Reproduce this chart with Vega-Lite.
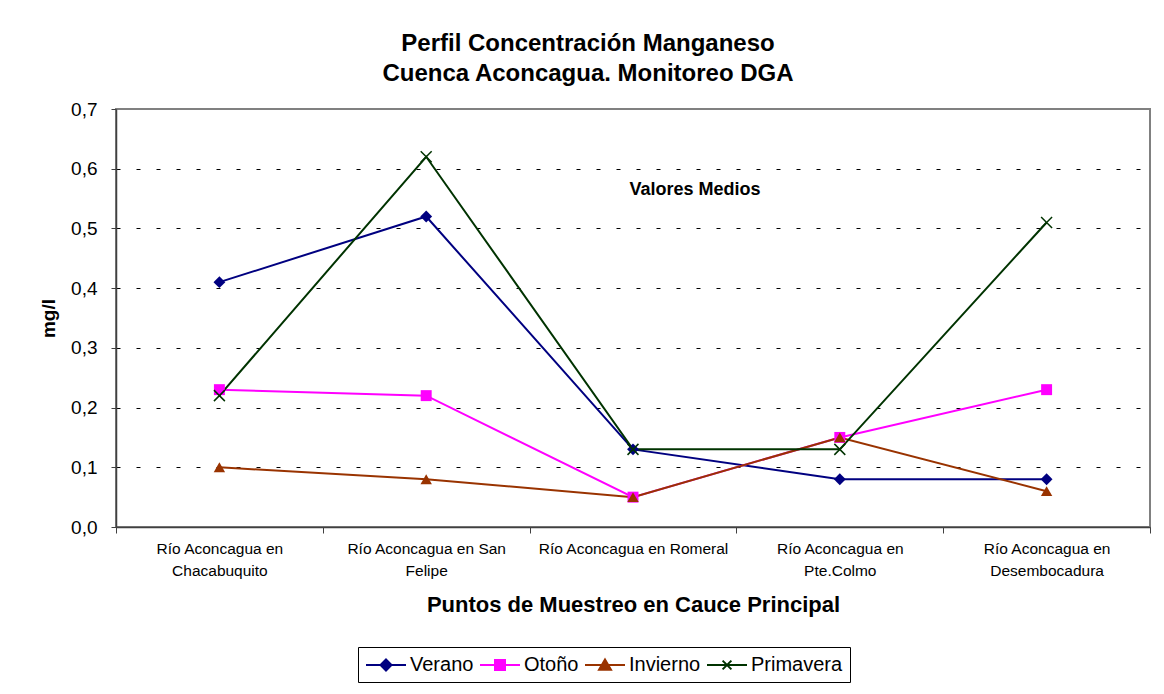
{
  "$schema": "https://vega.github.io/schema/vega-lite/v6.json",
  "width": 1034,
  "height": 418,
  "autosize": {"type": "none"},
  "padding": {"left": 116, "top": 109, "right": 14, "bottom": 167},
  "background": "white",
  "config": {
    "font": "Liberation Sans",
    "view": {"stroke": "#808080", "strokeWidth": 2},
    "axis": {"labelFont": "Liberation Sans", "titleFont": "Liberation Sans", "labelColor": "black", "titleColor": "black"}
  },
  "title": {
    "text": ["Perfil Concentración Manganeso", "Cuenca Aconcagua. Monitoreo DGA"],
    "fontSize": 24,
    "fontWeight": "bold",
    "font": "Liberation Sans",
    "color": "black",
    "lineHeight": 30,
    "anchor": "middle",
    "dx": -45,
    "offset": 14
  },
  "datasets": {
    "valores": [
      {"punto": "Río Aconcagua en Chacabuquito", "estacion": "Verano", "mgl": 0.41},
      {"punto": "Río Aconcagua en San Felipe", "estacion": "Verano", "mgl": 0.52},
      {"punto": "Río Aconcagua en Romeral", "estacion": "Verano", "mgl": 0.13},
      {"punto": "Río Aconcagua en Pte.Colmo", "estacion": "Verano", "mgl": 0.08},
      {"punto": "Río Aconcagua en Desembocadura", "estacion": "Verano", "mgl": 0.08},
      {"punto": "Río Aconcagua en Chacabuquito", "estacion": "Otoño", "mgl": 0.23},
      {"punto": "Río Aconcagua en San Felipe", "estacion": "Otoño", "mgl": 0.22},
      {"punto": "Río Aconcagua en Romeral", "estacion": "Otoño", "mgl": 0.05},
      {"punto": "Río Aconcagua en Pte.Colmo", "estacion": "Otoño", "mgl": 0.15},
      {"punto": "Río Aconcagua en Desembocadura", "estacion": "Otoño", "mgl": 0.23},
      {"punto": "Río Aconcagua en Chacabuquito", "estacion": "Invierno", "mgl": 0.10},
      {"punto": "Río Aconcagua en San Felipe", "estacion": "Invierno", "mgl": 0.08},
      {"punto": "Río Aconcagua en Romeral", "estacion": "Invierno", "mgl": 0.05},
      {"punto": "Río Aconcagua en Pte.Colmo", "estacion": "Invierno", "mgl": 0.15},
      {"punto": "Río Aconcagua en Desembocadura", "estacion": "Invierno", "mgl": 0.06},
      {"punto": "Río Aconcagua en Chacabuquito", "estacion": "Primavera", "mgl": 0.22},
      {"punto": "Río Aconcagua en San Felipe", "estacion": "Primavera", "mgl": 0.62},
      {"punto": "Río Aconcagua en Romeral", "estacion": "Primavera", "mgl": 0.13},
      {"punto": "Río Aconcagua en Pte.Colmo", "estacion": "Primavera", "mgl": 0.13},
      {"punto": "Río Aconcagua en Desembocadura", "estacion": "Primavera", "mgl": 0.51}
    ],
    "nota": [
      {"punto": "Río Aconcagua en Romeral", "mgl": 0.565, "texto": "Valores Medios"}
    ]
  },
  "data": {"name": "valores"},
  "encoding": {
    "x": {
      "field": "punto",
      "type": "nominal",
      "sort": null,
      "scale": {"type": "band", "paddingInner": 0, "paddingOuter": 0},
      "axis": {
        "title": "Puntos de Muestreo en Cauce Principal",
        "titleFontSize": 22,
        "titleFontWeight": "bold",
        "titlePadding": 16,
        "labelAngle": 0,
        "labelFontSize": 15.5,
        "labelLineHeight": 22,
        "labelPadding": 8,
        "labelLimit": 300,
        "tickSize": 6,
        "tickBand": "extent",
        "tickColor": "#404040",
        "domainColor": "#404040",
        "domainWidth": 1.5,
        "grid": false,
        "labelExpr": "datum.value == 'Río Aconcagua en Chacabuquito' ? ['Río Aconcagua en', 'Chacabuquito'] : datum.value == 'Río Aconcagua en San Felipe' ? ['Río Aconcagua en San', 'Felipe'] : datum.value == 'Río Aconcagua en Pte.Colmo' ? ['Río Aconcagua en', 'Pte.Colmo'] : datum.value == 'Río Aconcagua en Desembocadura' ? ['Río Aconcagua en', 'Desembocadura'] : datum.value"
      }
    },
    "y": {
      "field": "mgl",
      "type": "quantitative",
      "scale": {"domain": [0, 0.7], "nice": false, "zero": true},
      "axis": {
        "title": "mg/l",
        "titleFontSize": 19,
        "titleFontWeight": "bold",
        "titlePadding": 12,
        "values": [0, 0.1, 0.2, 0.3, 0.4, 0.5, 0.6, 0.7],
        "labelExpr": "replace(format(datum.value, '.1f'), '.', ',')",
        "labelFontSize": 19,
        "labelPadding": 14,
        "tickSize": 5,
        "tickColor": "#404040",
        "domainColor": "#404040",
        "domainWidth": 1.5,
        "grid": true,
        "gridColor": {"condition": {"test": "datum.value === 0 || datum.value === 0.7", "value": "transparent"}, "value": "black"},
        "gridDash": [4, 16],
        "gridWidth": 1
      }
    }
  },
  "layer": [
    {
      "mark": {"type": "line", "strokeWidth": 2},
      "encoding": {
        "color": {
          "field": "estacion",
          "type": "nominal",
          "sort": null,
          "scale": {"domain": ["Verano", "Otoño", "Invierno", "Primavera"], "range": ["#000080", "#FF00FF", "#993300", "#003300"]},
          "legend": {
            "orient": "none",
            "legendX": 242,
            "legendY": 538,
            "direction": "horizontal",
            "title": null,
            "labelFont": "Liberation Sans",
            "labelFontSize": 20,
            "labelColor": "black",
            "symbolSize": 400,
            "symbolStrokeWidth": 2,
            "labelOffset": 23,
            "columnPadding": 2,
            "strokeColor": "black",
            "fillColor": "white",
            "padding": 7,
            "encode": {
              "symbols": {
                "update": {
                  "shape": {"signal": "datum.value == 'Verano' ? 'M-1,0L3,0M1,-0.55L1.55,0L1,0.55L0.45,0Z' : datum.value == 'Otoño' ? 'M-1,0L3,0M0.5,-0.5L1.5,-0.5L1.5,0.5L0.5,0.5Z' : datum.value == 'Invierno' ? 'M-1,0L3,0M1,-0.56L1.6,0.48L0.4,0.48Z' : 'M-1,0L3,0M0.56,-0.44L1.44,0.44M0.56,0.44L1.44,-0.44'"},
                  "fill": {"scale": "color", "field": "value"},
                  "stroke": {"scale": "color", "field": "value"},
                  "strokeWidth": {"value": 2},
                  "opacity": {"value": 1},
                  "fillOpacity": {"value": 1},
                  "strokeOpacity": {"value": 1}
                }
              }
            }
          }
        }
      }
    },
    {
      "transform": [{"filter": "datum.estacion == 'Verano'"}],
      "mark": {"type": "point", "shape": "diamond", "filled": true, "opacity": 1, "size": 140, "color": "#000080"},
      "encoding": {}
    },
    {
      "transform": [{"filter": "datum.estacion == 'Otoño'"}],
      "mark": {"type": "point", "shape": "square", "filled": true, "opacity": 1, "size": 120, "color": "#FF00FF"},
      "encoding": {}
    },
    {
      "transform": [{"filter": "datum.estacion == 'Invierno'"}],
      "mark": {"type": "point", "shape": "triangle-up", "filled": true, "opacity": 1, "size": 130, "color": "#993300"},
      "encoding": {}
    },
    {
      "transform": [{"filter": "datum.estacion == 'Primavera'"}],
      "mark": {"type": "point", "shape": "M-1,-1L1,1M-1,1L1,-1", "filled": false, "opacity": 1, "size": 120, "strokeWidth": 1.5, "color": "#003300"},
      "encoding": {}
    },
    {
      "data": {"name": "nota"},
      "mark": {"type": "text", "fontSize": 18, "fontWeight": "bold", "font": "Liberation Sans", "color": "black", "dx": 62},
      "encoding": {
        "text": {"field": "texto", "type": "nominal"}
      }
    }
  ]
}
